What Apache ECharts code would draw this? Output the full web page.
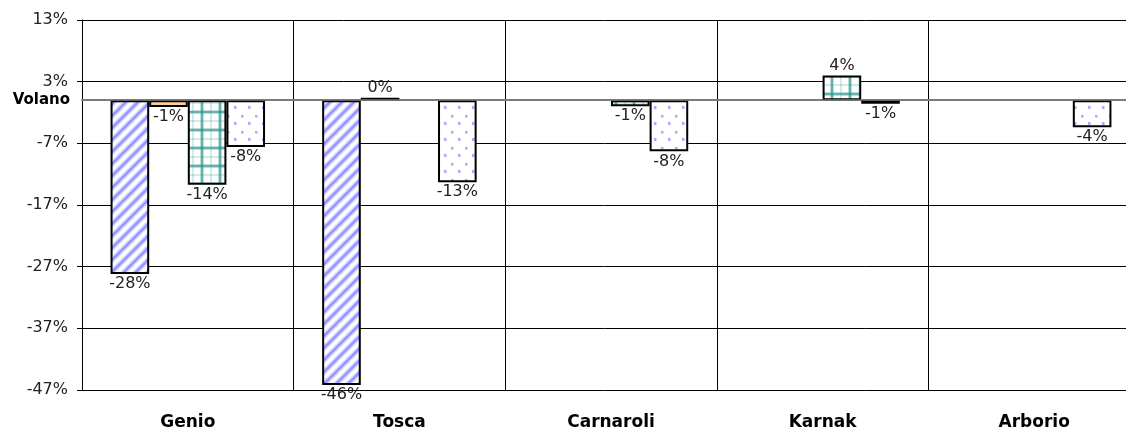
<!DOCTYPE html>
<html>
<head>
<meta charset="utf-8">
<script src="https://cdn.jsdelivr.net/npm/echarts@6/dist/echarts.min.js"></script>
<style>
    html, body { margin: 0; padding: 0; background: #fff; }
    #chart { width: 1126px; height: 432px; }
</style>
</head>
<body>
<div id="chart"></div>
<script>
// dati (valori in %)
const categories = ['Genio', 'Tosca', 'Carnaroli', 'Karnak', 'Arborio'];
const serie1 = [-28.2, -46.2, null, null, null];
const serie2 = [-1.1, 0.4, null, null, null];
const serie3 = [-13.7, null, -1.0, 4.0, null];
const serie4 = [-7.6, -13.3, -8.3, -0.6, -4.4];
const yTicks = { min: -47, max: 13, interval: 10 };
const baseLabel = 'Volano';

// pattern di riempimento
function makeTile(w, h, draw) {
    const c = document.createElement('canvas');
    c.width = w;
    c.height = h;
    const ctx = c.getContext('2d');
    ctx.fillStyle = '#fff';
    ctx.fillRect(0, 0, w, h);
    draw(ctx);
    return { image: c, repeat: 'repeat' };
}

const stripes = makeTile(12, 12, ctx => {
    for (let k = -12; k <= 24; k += 12) {
        ctx.strokeStyle = 'rgba(150,150,255,0.35)';
        ctx.lineWidth = 5.5;
        ctx.beginPath();
        ctx.moveTo(k - 2, 14);
        ctx.lineTo(k + 14, -2);
        ctx.stroke();
        ctx.strokeStyle = 'rgba(125,125,255,0.75)';
        ctx.lineWidth = 2.5;
        ctx.beginPath();
        ctx.moveTo(k - 2, 14);
        ctx.lineTo(k + 14, -2);
        ctx.stroke();
    }
});

const plaid = makeTile(18, 18, ctx => {
    ctx.fillStyle = 'rgba(60,160,155,0.22)';
    ctx.fillRect(12, 0, 2, 18);
    ctx.fillRect(0, 12, 18, 2);
    ctx.fillStyle = 'rgba(40,150,145,0.3)';
    ctx.fillRect(2, 0, 4, 18);
    ctx.fillRect(0, 2, 18, 4);
    ctx.fillStyle = 'rgba(40,150,145,0.6)';
    ctx.fillRect(3, 0, 2, 18);
    ctx.fillRect(0, 3, 18, 2);
});

const dots = makeTile(14, 16, ctx => {
    ctx.fillStyle = 'rgba(140,140,255,0.75)';
    ctx.fillRect(3, 3, 2.5, 2.5);
    ctx.fillRect(10, 10, 2.5, 3);
});

const chart = echarts.init(document.getElementById('chart'));
const font = 'DejaVu Sans';

function toData(values) {
    return values.map(v => v == null ? null : {
        value: v,
        label: { position: v < 0 ? 'bottom' : 'top' }
    });
}

function makeSeries(values, fill, extra) {
    return Object.assign({
        type: 'bar',
        data: toData(values),
        barGap: '0%',
        barCategoryGap: '27%',
        itemStyle: { color: fill, borderColor: '#000', borderWidth: 2 },
        label: {
            show: true,
            distance: 2,
            fontFamily: font,
            fontSize: 16,
            color: '#222',
            formatter: p => Math.round(p.value) + '%'
        },
        emphasis: { disabled: true }
    }, extra || {});
}

chart.setOption({
    animation: false,
    // l'area del grafico continua oltre il bordo destro dell'immagine
    grid: { left: 82, width: 1058, top: 20, bottom: 42, outerBoundsMode: 'none', containLabel: false },
    xAxis: {
        type: 'category',
        data: categories,
        boundaryGap: true,
        axisLine: { lineStyle: { color: '#888', width: 2 } },
        axisTick: { show: false },
        axisLabel: { margin: 24, fontFamily: font, fontSize: 17, fontWeight: 'bold', color: '#000' },
        splitLine: { show: true, lineStyle: { color: '#000', width: 1 } }
    },
    yAxis: {
        type: 'value',
        min: yTicks.min,
        max: yTicks.max,
        interval: yTicks.interval,
        axisLine: { show: true, lineStyle: { color: '#000', width: 1 } },
        axisTick: { show: true, length: 5, lineStyle: { color: '#000' } },
        axisLabel: { margin: 14, fontFamily: font, fontSize: 16, color: '#222', formatter: '{value}%' },
        splitLine: { show: true, lineStyle: { color: '#000', width: 1 } }
    },
    series: [
        makeSeries(serie1, stripes, {
            markLine: {
                silent: true,
                symbol: 'none',
                data: [{ yAxis: 0 }],
                lineStyle: { color: '#777', width: 1.5, type: 'solid' },
                label: {
                    position: 'start',
                    distance: 12,
                    formatter: baseLabel,
                    fontFamily: font,
                    fontSize: 15,
                    fontWeight: 'bold',
                    color: '#000'
                }
            }
        }),
        makeSeries(serie2, '#ffcc99'),
        makeSeries(serie3, plaid),
        makeSeries(serie4, dots)
    ]
});
</script>
</body>
</html>
